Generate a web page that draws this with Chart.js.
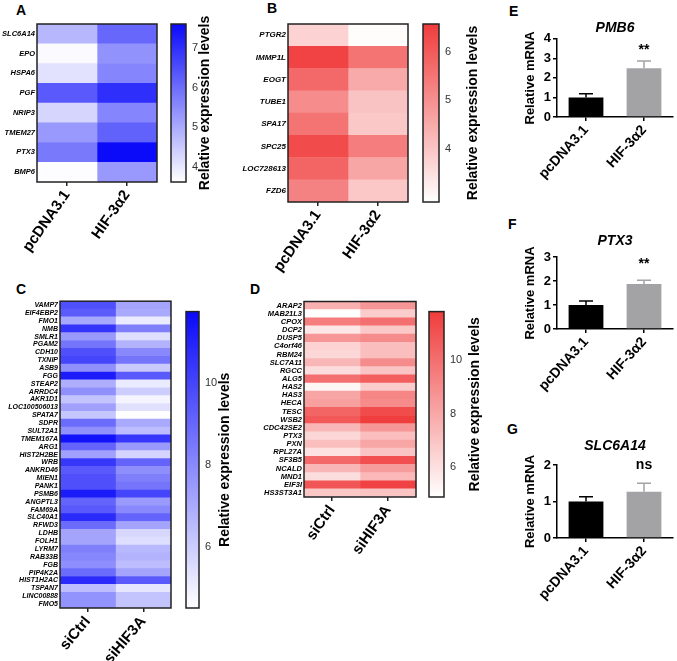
<!DOCTYPE html>
<html>
<head>
<meta charset="utf-8">
<script src="https://cdn.jsdelivr.net/npm/chart.js@4.4.1/dist/chart.umd.min.js"></script>
<style>
body{margin:0;background:#fff;width:677px;height:661px;position:relative;overflow:hidden;font-family:'Liberation Sans',Arial,sans-serif}
.box{position:absolute}
.lbl{position:absolute;font-weight:bold;font-size:14px;line-height:14px}
</style>
</head>
<body>
<div class="lbl" style="left:16px;top:3px">A</div>
<div class="lbl" style="left:267px;top:1px">B</div>
<div class="lbl" style="left:16px;top:282px">C</div>
<div class="lbl" style="left:250px;top:282px">D</div>
<div class="lbl" style="left:509px;top:4px">E</div>
<div class="lbl" style="left:508px;top:217px">F</div>
<div class="lbl" style="left:507px;top:422px">G</div>
<script>
// panel A / B: overexpression heatmaps
const colsAB = ['pcDNA3.1', 'HIF-3α2'];
const genesA = ['SLC6A14','EPO','HSPA6','PGF','NRIP3','TMEM27','PTX3','BMP6'];
const ctrlA = [4.8, 3.7, 4.1, 6.3, 4.3, 5.3, 5.8, 3.65];
const hifA  = [6.1, 5.4, 5.6, 7.0, 5.6, 6.2, 7.6, 5.3];
const rangeA = [3.62, 7.61];

const genesB = ['PTGR2','IMMP1L','EOGT','TUBE1','SPA17','SPC25','LOC728613','FZD6'];
const ctrlB = [3.75, 6.45, 5.73, 5.07, 5.55, 6.3, 5.83, 5.25];
const hifB  = [2.95, 5.55, 4.5, 4.03, 3.93, 5.35, 4.6, 3.95];
const rangeB = [2.9, 6.58];

// panel C / D: knockdown heatmaps
const colsCD = ['siCtrl', 'siHIF3A'];
const genesC = ['VAMP7','EIF4EBP2','FMO1','NMB','SMLR1','PGAM2','CDH10','TXNIP','ASB9','FGG','STEAP2','ARRDC4','AKR1D1','LOC100506013','SPATA7','SDPR','SULT2A1','TMEM167A','ARG1','HIST2H2BE','WRB','ANKRD46','MIEN1','PANK1','PSMB6','ANGPTL3','FAM69A','SLC40A1','RFWD3','LDHB','FOLH1','LYRM7','RAB33B','FGB','PIP4K2A','HIST1H2AC','TSPAN7','LINC00888','FMO5'];
const siCtrlC = [9.7,9.35,7.1,10.5,7.5,8.6,9.7,10.0,7.8,11.2,6.9,7.8,6.3,7.3,6.2,8.85,7.8,11.5,9.1,7.3,10.4,9.4,9.7,9.7,11.25,9.1,9.4,10.8,8.85,7.2,7.2,8.3,8.1,7.85,8.85,10.8,6.5,7.7,7.7];
const siHifC  = [7.2,7.05,5.1,8.3,5.5,6.8,8.0,8.6,6.1,9.4,5.1,6.0,4.8,5.4,4.55,7.05,6.5,10.4,7.5,5.8,9.1,7.85,8.3,8.6,10.0,7.5,8.0,9.1,7.2,5.7,5.5,6.6,6.8,6.5,7.2,9.4,5.25,6.3,6.3];
const rangeC = [4.52, 11.74];

const genesD = ['ARAP2','MAB21L3','CPOX','DCP2','DUSP5','C4orf46','RBM24','SLC7A11','RGCC','ALG5','HAS2','HAS3','HECA','TESC','WSB2','CDC42SE2','PTX3','PXN','RPL27A','SF3B5','NCALD','MND1','EIF3I','HS3ST3A1'];
const siCtrlD = [7.7,4.95,9.5,5.8,8.6,6.5,6.3,7.5,6.1,10.0,5.25,8.1,8.3,10.4,10.8,7.5,6.3,7.2,5.95,10.2,7.5,6.1,10.9,6.85];
const siHifD  = [8.6,6.7,10.0,6.85,9.0,7.2,7.2,9.0,7.0,10.6,6.7,9.2,9.0,11.25,11.75,8.6,7.2,8.1,7.0,11.1,8.4,7.4,11.6,7.0];
const rangeD = [4.9, 11.8];

// panel E-G: qPCR bars
const barGroups = ['pcDNA3.1', 'HIF-3α2'];
const meanE = [1.0, 2.5],  errE = [0.19, 0.37], sigE = ['', '**'];
const meanF = [1.0, 1.88], errF = [0.17, 0.15], sigF = ['', '**'];
const meanG = [1.0, 1.27], errG = [0.13, 0.23], sigG = ['', 'ns'];

const FONT = "'Liberation Sans', Arial, sans-serif";
Chart.defaults.font.family = FONT;
Chart.defaults.color = '#000';
Chart.defaults.animation = false;
Chart.defaults.plugins.legend.display = false;
Chart.defaults.plugins.tooltip.enabled = false;

const BLUE = [10, 10, 250], RED = [240, 60, 60];
function mix(hi, t){
  t = Math.max(0, Math.min(1, t));
  return 'rgb(' + hi.map(c => Math.round(255 + (c - 255) * t)).join(',') + ')';
}

function box(left, top, w, h){
  const d = document.createElement('div');
  d.className = 'box';
  d.style.cssText = `left:${left}px;top:${top}px;width:${w}px;height:${h}px`;
  const c = document.createElement('canvas');
  c.width = w; c.height = h;
  c.style.width = w + 'px'; c.style.height = h + 'px';
  d.appendChild(c);
  document.body.appendChild(d);
  return c;
}

const frame = {
  id: 'frame',
  afterDraw(chart){
    const a = chart.chartArea, c = chart.ctx;
    c.save();
    c.strokeStyle = '#222'; c.lineWidth = 1.5;
    c.strokeRect(a.left, a.top, a.right - a.left, a.bottom - a.top);
    c.restore();
  }
};

const sideTitle = {
  id: 'sideTitle',
  afterDraw(chart, args, opts){
    const a = chart.chartArea, c = chart.ctx;
    c.save();
    c.translate(opts.x, (a.top + a.bottom) / 2);
    c.rotate(-Math.PI / 2);
    c.font = 'bold 14px ' + FONT;
    c.textAlign = 'center'; c.textBaseline = 'middle'; c.fillStyle = '#000';
    c.fillText(opts.text, 0, 0);
    c.restore();
  }
};

function heatmap(o){
  const cv = box(o.left, o.top, o.w, o.h);
  const [lo, hi] = o.range;
  new Chart(cv, {
    type: 'bar',
    data: {
      labels: o.genes,
      datasets: o.series.map(s => ({
        data: o.genes.map(() => 1),
        backgroundColor: s.map(v => mix(o.hi, (v - lo) / (hi - lo))),
        barPercentage: 1, categoryPercentage: 1, borderWidth: 0
      }))
    },
    options: {
      indexAxis: 'y', responsive: false,
      layout: {padding: {top: o.padTop, right: o.padRight, left: 0, bottom: 0}},
      scales: {
        x: {
          type: 'linear', stacked: true, min: 0, max: o.cols.length,
          afterBuildTicks: s => { s.ticks = o.cols.map((_, i) => ({value: i + 0.5})); },
          afterFit: s => { s.height = o.xh; },
          ticks: {autoSkip: false, minRotation: o.rot, maxRotation: o.rot, padding: 1,
                  font: {size: o.xfs, weight: 'bold'}, callback: v => o.cols[Math.floor(v)]},
          grid: {drawOnChartArea: false, tickLength: 4, color: '#222', lineWidth: 1.5},
          border: {display: false}
        },
        y: {
          stacked: true,
          afterFit: s => { s.width = o.yw; },
          ticks: {autoSkip: false, padding: 2, font: {size: o.gfs, weight: 'bold', style: 'italic'}},
          grid: {display: false, drawTicks: false}, border: {display: false}
        }
      }
    },
    plugins: [frame]
  });

  const cb = o.bar;
  const cv2 = box(cb.left, o.top, cb.w, o.h);
  new Chart(cv2, {
    type: 'bar',
    data: {
      labels: [''],
      datasets: [{
        data: [o.range],
        backgroundColor: ctx => {
          const a = ctx.chart.chartArea;
          if (!a) return mix(o.hi, 0.5);
          const g = ctx.chart.ctx.createLinearGradient(0, a.bottom, 0, a.top);
          g.addColorStop(0, '#ffffff');
          g.addColorStop(1, mix(o.hi, 1));
          return g;
        },
        barPercentage: 1, categoryPercentage: 1, borderWidth: 0
      }]
    },
    options: {
      responsive: false,
      layout: {padding: {top: o.padTop, bottom: o.h - o.padTop - cb.plotH, left: cb.padLeft, right: 0}},
      scales: {
        x: {display: false},
        y: {
          position: 'right', min: lo, max: hi,
          afterBuildTicks: s => { s.ticks = s.ticks.filter(t => Math.abs(t.value / cb.step - Math.round(t.value / cb.step)) < 1e-6); },
          afterFit: s => { s.width = cb.w - cb.padLeft - cb.barW; },
          ticks: {stepSize: cb.step, padding: 10, font: {size: 11}, color: '#333'},
          grid: {drawOnChartArea: false, tickLength: -4, color: '#333', lineWidth: 1},
          border: {display: false}
        }
      },
      plugins: {sideTitle: {text: 'Relative expression levels', x: cb.titleX}}
    },
    plugins: [frame, sideTitle]
  });
}

const errBars = {
  id: 'errBars',
  afterDatasetsDraw(chart, args, opts){
    const meta = chart.getDatasetMeta(0), y = chart.scales.y, c = chart.ctx;
    const ds = chart.data.datasets[0];
    c.save();
    ds.data.forEach((m, i) => {
      const x = meta.data[i].x;
      const yTop = y.getPixelForValue(m);
      const yErr = y.getPixelForValue(m + opts.errors[i]);
      c.strokeStyle = ds.backgroundColor[i]; c.lineWidth = 1.5;
      c.beginPath();
      c.moveTo(x, yTop); c.lineTo(x, yErr);
      c.moveTo(x - 7, yErr); c.lineTo(x + 7, yErr);
      c.stroke();
      if (opts.marks[i]) {
        c.fillStyle = '#000';
        c.font = 'bold 14px ' + FONT;
        c.textAlign = 'center'; c.textBaseline = 'middle';
        c.fillText(opts.marks[i], x, y.getPixelForValue(opts.markAt));
      }
    });
    c.restore();
  }
};

function barChart(o){
  const cv = box(o.left, o.top, o.w, o.h);
  new Chart(cv, {
    type: 'bar',
    data: {
      labels: barGroups,
      datasets: [{data: o.means, backgroundColor: ['#000000', '#a3a3a6'], barPercentage: 0.6, categoryPercentage: 1}]
    },
    options: {
      responsive: false,
      layout: {padding: {top: 0, right: 4, left: 0, bottom: 0}},
      plugins: {
        title: {display: true, fullSize: false, text: o.title, color: '#000',
                font: {size: 14, weight: 'bold', style: 'italic'}, padding: {top: o.tTop, bottom: o.tBottom}},
        errBars: {errors: o.errs, marks: o.marks, markAt: o.markAt}
      },
      scales: {
        x: {
          afterFit: s => { s.height = o.xh; },
          grid: {offset: false, drawOnChartArea: false, tickLength: 4, color: '#000', lineWidth: 1.5},
          border: {color: '#000', width: 1.5},
          ticks: {autoSkip: false, minRotation: 48, maxRotation: 48, padding: 1, color: '#000', font: {size: 14, weight: 'bold'}}
        },
        y: {
          min: 0, max: o.max,
          afterFit: s => { s.width = 57; },
          ticks: {stepSize: 1, padding: 2, color: '#000', font: {size: 13, weight: 'bold'}},
          grid: {drawOnChartArea: false, tickLength: 4, color: '#000', lineWidth: 1.5},
          border: {color: '#000', width: 1.5},
          title: {display: true, text: 'Relative mRNA', color: '#000', font: {size: 13, weight: 'bold'}, padding: {top: 23, bottom: 0}}
        }
      }
    },
    plugins: [errBars]
  });
}

heatmap({left: 0, top: 0, w: 165, h: 290, padTop: 24, padRight: 8, yw: 37, xh: 108,
  genes: genesA, cols: colsAB, series: [ctrlA, hifA], range: rangeA, hi: BLUE,
  rot: 55, xfs: 15, gfs: 7.5,
  bar: {left: 160, w: 60, padLeft: 11, barW: 15, plotH: 158, step: 1, titleX: 45}});

heatmap({left: 225, top: 0, w: 190, h: 290, padTop: 24, padRight: 7, yw: 63, xh: 88,
  genes: genesB, cols: colsAB, series: [ctrlB, hifB], range: rangeB, hi: RED,
  rot: 55, xfs: 15, gfs: 8,
  bar: {left: 415, w: 75, padLeft: 8, barW: 16, plotH: 178, step: 1, titleX: 58}});

heatmap({left: 0, top: 295, w: 180, h: 366, padTop: 6, padRight: 9, yw: 60, xh: 53,
  genes: genesC, cols: colsCD, series: [siCtrlC, siHifC], range: rangeC, hi: BLUE,
  rot: 50, xfs: 15, gfs: 7,
  bar: {left: 178, w: 60, padLeft: 8, barW: 13, plotH: 307, step: 2, titleX: 47}});

heatmap({left: 240, top: 295, w: 185, h: 366, padTop: 6, padRight: 9, yw: 64, xh: 164,
  genes: genesD, cols: colsCD, series: [siCtrlD, siHifD], range: rangeD, hi: RED,
  rot: 55, xfs: 15, gfs: 7.5,
  bar: {left: 420, w: 70, padLeft: 9, barW: 15, plotH: 196, step: 2, titleX: 55}});

barChart({left: 500, top: 0, w: 177, h: 197, xh: 80, max: 4, title: 'PMB6', tTop: 20, tBottom: 2,
  means: meanE, errs: errE, marks: sigE, markAt: 3.4});
barChart({left: 500, top: 213, w: 177, h: 196, xh: 80, max: 3, title: 'PTX3', tTop: 19.6, tBottom: 7.6,
  means: meanF, errs: errF, marks: sigF, markAt: 2.7});
barChart({left: 500, top: 418, w: 177, h: 200, xh: 80, max: 2, title: 'SLC6A14', tTop: 19.6, tBottom: 10.6,
  means: meanG, errs: errG, marks: sigG, markAt: 2.0});
</script>
</body>
</html>
